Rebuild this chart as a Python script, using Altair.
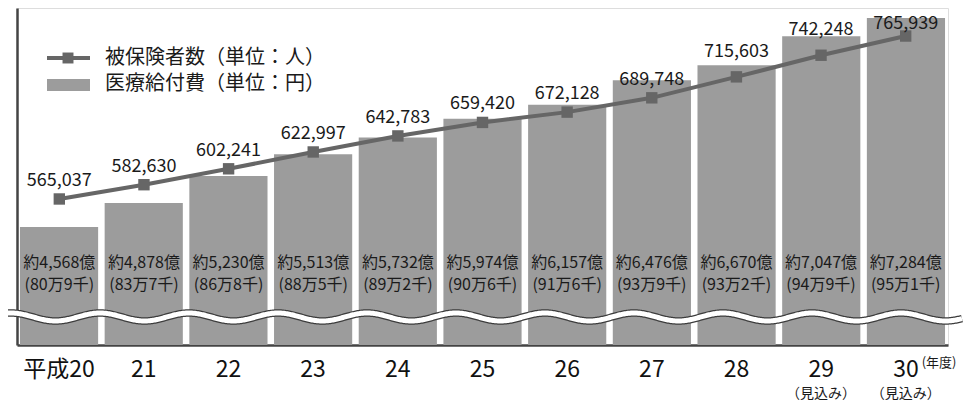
import altair as alt
import pandas as pd
import numpy as np

# ---- data ----
years = ["平成20", "21", "22", "23", "24", "25", "26", "27", "28", "29", "30"]
insured = [565037, 582630, 602241, 622997, 642783, 659420, 672128, 689748, 715603, 742248, 765939]
benefit = [4568, 4878, 5230, 5513, 5732, 5974, 6157, 6476, 6670, 7047, 7284]
benefit_text = ["約4,568億", "約4,878億", "約5,230億", "約5,513億", "約5,732億", "約5,974億",
                "約6,157億", "約6,476億", "約6,670億", "約7,047億", "約7,284億"]
per_person_text = ["(80万9千)", "(83万7千)", "(86万8千)", "(88万5千)", "(89万2千)", "(90万6千)",
                   "(91万6千)", "(93万9千)", "(93万2千)", "(94万9千)", "(95万1千)"]
notes = ["", "", "", "", "", "", "", "", "", "（見込み）", "（見込み）"]
legend_line = "被保険者数（単位：人）"
legend_bar = "医療給付費（単位：円）"
unit_text = "(年度)"
raised = ["28", "29"]
top_label = ["30"]

df = pd.DataFrame({
    "year": years,
    "insured": insured,
    "insured_label": [f"{v:,}" for v in insured],
    "benefit": benefit,
    "benefit_text": benefit_text,
    "per_person": per_person_text,
    "note": notes,
})

FONT = "Noto Sans CJK JP"
W, H = 931, 337
BAR_DOMAIN = [3034, 7414]
LINE_DOMAIN = [385000, 800500]
BAR_COLOR = "#9c9c9c"
LINE_COLOR = "#666666"
TEXT = "#1a1a1a"


def X(axis=None):
    return alt.X("year:N", sort=years, title=None,
                 scale=alt.Scale(domain=years, paddingInner=0.077, paddingOuter=0.035),
                 axis=axis)


bar_y = alt.Y("benefit:Q", title=None,
              scale=alt.Scale(domain=BAR_DOMAIN, zero=False, nice=False),
              axis=alt.Axis(labels=False, ticks=False, grid=False,
                            domainColor="#444444", domainWidth=2.5))
line_y = alt.Y("insured:Q", title=None,
               scale=alt.Scale(domain=LINE_DOMAIN, zero=False, nice=False), axis=None)

base = alt.Chart(df)

bars = base.mark_bar(color=BAR_COLOR).encode(
    x=X(alt.Axis(labelFontSize=23, labelFont=FONT, labelColor="#111", labelAngle=0,
                 domainColor="#444444", domainWidth=2.5, ticks=False, tickSize=0,
                 labelPadding=24, labelBaseline="middle", labelOverlap=False)),
    y=bar_y,
    y2=alt.datum(BAR_DOMAIN[0]),
)

txt1 = base.mark_text(font=FONT, fontSize=16, color=TEXT, baseline="middle").encode(
    x=X(), y=alt.value(255), text="benefit_text:N")
txt2 = base.mark_text(font=FONT, fontSize=16, color=TEXT, baseline="middle").encode(
    x=X(), y=alt.value(277), text="per_person:N")

# wavy axis-break decoration
wx = np.arange(-12, 946, 1.0)
wave = pd.DataFrame({"px": wx, "py": 309 - 4 * np.cos(2 * np.pi * (wx - 83) / 89)})
wx_enc = alt.X("px:Q", scale=alt.Scale(domain=[0, W], nice=False, zero=False), axis=None)
wy_enc = alt.Y("py:Q", scale=alt.Scale(domain=[0, H], nice=False, zero=False, reverse=True), axis=None)
wave_dark = alt.Chart(wave).mark_line(color="#3c3c3c", strokeWidth=7.5).encode(x=wx_enc, y=wy_enc)
wave_white = alt.Chart(wave).mark_line(color="white", strokeWidth=5).encode(x=wx_enc, y=wy_enc)

line = base.mark_line(color=LINE_COLOR, strokeWidth=4).encode(x=X(), y=line_y)
pts = base.mark_square(color=LINE_COLOR, size=130, opacity=1).encode(x=X(), y=line_y)

lab_normal = base.transform_filter(
    ~alt.FieldOneOfPredicate(field="year", oneOf=raised + top_label)
).mark_text(font=FONT, fontSize=18, color=TEXT, baseline="middle", dy=-18).encode(
    x=X(), y=line_y, text="insured_label:N")
lab_raised = base.transform_filter(
    alt.FieldOneOfPredicate(field="year", oneOf=raised)
).mark_text(font=FONT, fontSize=18, color=TEXT, baseline="middle", dy=-25).encode(
    x=X(), y=line_y, text="insured_label:N")
lab_top = base.transform_filter(
    alt.FieldOneOfPredicate(field="year", oneOf=top_label)
).mark_text(font=FONT, fontSize=18, color=TEXT, baseline="middle", dy=-12).encode(
    x=X(), y=line_y, text="insured_label:N")

note_layer = base.mark_text(font=FONT, fontSize=14, color=TEXT, baseline="middle").encode(
    x=X(), y=alt.value(386), text="note:N")
unit_layer = base.transform_filter(
    alt.FieldEqualPredicate(field="year", equal=years[-1])
).mark_text(font=FONT, fontSize=13, color=TEXT, baseline="middle", align="left", dx=16).encode(
    x=X(), y=alt.value(355), text=alt.value(unit_text))

# legend
one = alt.Chart(pd.DataFrame({"k": [0]}))
leg_line = one.mark_rule(color=LINE_COLOR, strokeWidth=4).encode(
    x=alt.value(30), x2=alt.value(73), y=alt.value(50))
leg_sq = one.mark_square(color=LINE_COLOR, size=120, opacity=1).encode(
    x=alt.value(51), y=alt.value(50))
leg_rect = one.mark_rect(color=BAR_COLOR).encode(
    x=alt.value(30), x2=alt.value(73), y=alt.value(71), y2=alt.value(83))
leg_t1 = one.mark_text(font=FONT, fontSize=20, color=TEXT, align="left", baseline="middle").encode(
    x=alt.value(88), y=alt.value(49.5), text=alt.value(legend_line))
leg_t2 = one.mark_text(font=FONT, fontSize=20, color=TEXT, align="left", baseline="middle").encode(
    x=alt.value(88), y=alt.value(76), text=alt.value(legend_bar))

chart = alt.layer(
    bars, txt1, txt2, wave_dark, wave_white, line, pts,
    lab_normal, lab_raised, lab_top, note_layer, unit_layer,
    leg_line, leg_sq, leg_rect, leg_t1, leg_t2,
).resolve_scale(x="independent", y="independent").properties(
    width=W, height=H,
    padding={"left": 9, "top": 0, "right": 17, "bottom": 56},
    autosize=alt.AutoSizeParams(type="none"),
).configure_view(stroke=None).configure(font=FONT, background="white")

chart.save("out.html", embed_options={"renderer": "svg", "actions": False})
